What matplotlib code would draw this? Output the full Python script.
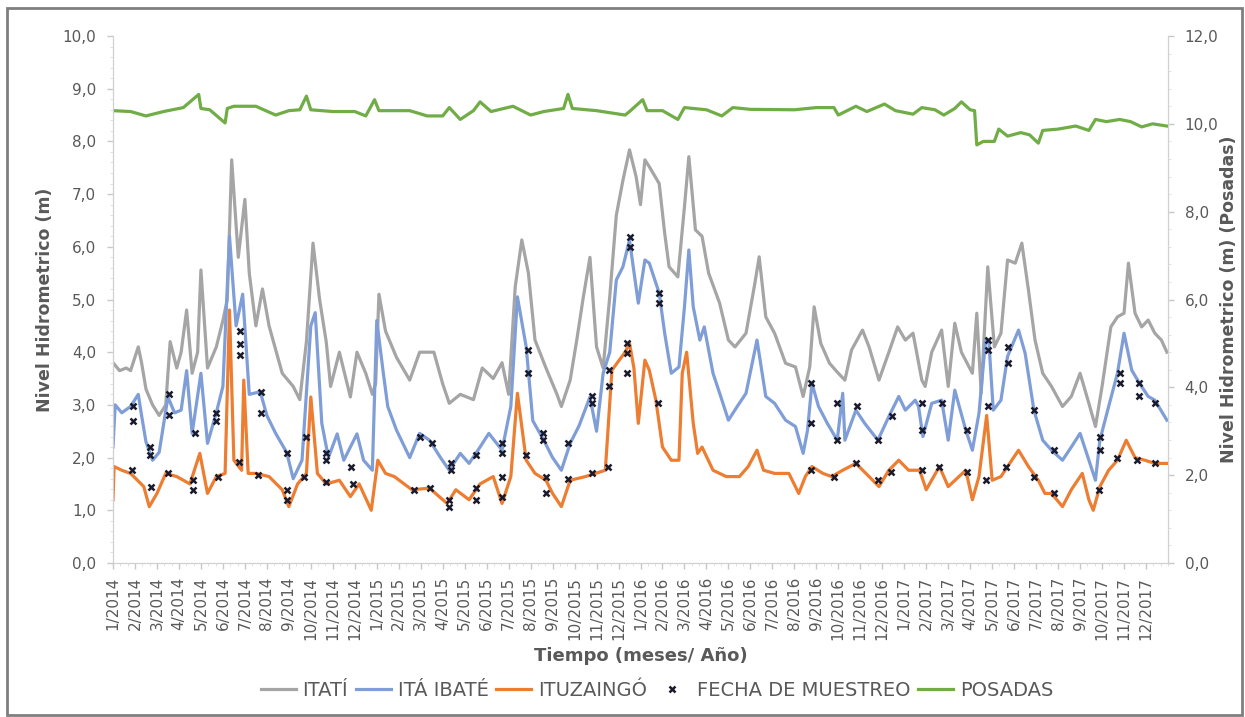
import matplotlib
matplotlib.use("Agg")
import matplotlib.pyplot as plt
from matplotlib.patches import Rectangle
from matplotlib.ticker import FuncFormatter, MultipleLocator
import numpy as np

# ---------------- datos (mes 0 = 1/2014) ----------------
etiquetas_mes = [f"{m}/{a}" for a in range(2014, 2018) for m in range(1, 13)]

itati_mes = [0.0, 0.3, 0.6, 0.8, 1.15, 1.3, 1.5, 1.8, 2.1, 2.4, 2.6, 2.9, 3.1, 3.35, 3.6, 3.85, 4.0, 4.3,
             4.7, 5.0, 5.2, 5.4, 5.7, 6.0, 6.2, 6.5, 6.8, 7.1, 7.7, 8.2, 8.5, 8.8, 9.1, 9.4, 9.7, 9.9,
             10.3, 10.8, 11.1, 11.5, 11.8, 11.95, 12.1, 12.4, 12.9, 13.5, 13.95, 14.6, 15.0, 15.3, 15.8,
             16.4, 16.8, 17.3, 17.7, 18.0, 18.3, 18.6, 18.9, 19.2, 19.7, 20.2, 20.4, 20.8, 21.1, 21.4,
             21.7, 22.0, 22.3, 22.6, 22.9, 23.2, 23.5, 23.8, 24.0, 24.2, 24.4, 24.85, 25.1, 25.3, 25.7,
             26.0, 26.2, 26.5, 26.8, 27.1, 27.6, 28.0, 28.3, 28.8, 29.2, 29.4, 29.7, 30.1, 30.6, 31.05,
             31.4, 31.7, 31.9, 32.2, 32.6, 33.0, 33.3, 33.6, 34.1, 34.4, 34.85, 35.3, 35.7, 36.05, 36.4,
             36.8, 36.95, 37.25, 37.7, 38.0, 38.3, 38.6, 39.1, 39.3, 39.5, 39.8, 40.1, 40.4, 40.7, 41.05,
             41.35, 41.65, 41.95, 42.3, 42.7, 43.2, 43.6, 44.0, 44.4, 44.7, 45.0, 45.4, 45.7, 46.0, 46.2,
             46.5, 46.8, 47.1, 47.4, 47.7, 47.95]
itati_nivel = [3.8, 3.65, 3.7, 3.65, 4.1, 3.8, 3.3, 3.0, 2.8, 3.0, 4.2, 3.7, 4.0, 4.8, 3.6, 4.0, 5.56, 3.7,
               4.1, 4.6, 5.0, 7.65, 5.8, 6.9, 5.5, 4.5, 5.2, 4.5, 3.6, 3.35, 3.1, 4.2, 6.07, 5.0, 4.2, 3.35,
               4.0, 3.15, 4.0, 3.6, 3.2, 3.4, 5.1, 4.4, 3.9, 3.47, 4.0, 4.0, 3.4, 3.03, 3.2,
               3.1, 3.7, 3.5, 3.8, 3.2, 5.24, 6.13, 5.5, 4.23, 3.7, 3.2, 2.97, 3.47, 4.23, 5.05,
               5.8, 4.1, 3.7, 5.05, 6.6, 7.26, 7.84, 7.33, 6.8, 7.65, 7.52, 7.2, 6.26, 5.62, 5.43,
               6.76, 7.71, 6.32, 6.2, 5.5, 4.93, 4.23, 4.1, 4.36, 5.3, 5.81, 4.67, 4.36, 3.79, 3.72,
               3.16, 3.72, 4.86, 4.17, 3.79, 3.6, 3.47, 4.04, 4.42, 4.1, 3.47, 4.0, 4.48, 4.23, 4.36,
               3.47, 3.35, 4.0, 4.42, 3.35, 4.55, 4.0, 3.6, 4.74, 3.22, 5.62, 4.1, 4.36, 5.75, 5.69,
               6.07, 5.18, 4.23, 3.6, 3.35, 2.97, 3.16, 3.6, 3.03, 2.59, 3.35, 4.48, 4.67, 4.74, 5.69,
               4.74, 4.48, 4.61, 4.36, 4.23, 4.0]

ibate_mes = [0.0, 0.1, 0.4, 0.8, 1.15, 1.3, 1.5, 1.8, 2.1, 2.5, 2.8, 3.1, 3.35, 3.6, 4.0, 4.3, 4.7, 5.0,
             5.3, 5.6, 5.9, 6.2, 6.7, 7.0, 7.4, 7.9, 8.2, 8.6, 9.0, 9.2, 9.5, 9.8, 10.2, 10.5, 11.1, 11.4,
             11.8, 12.0, 12.3, 12.5, 12.9, 13.5, 13.95, 14.4, 14.9, 15.3, 15.8, 16.2, 16.7, 17.1, 17.7,
             18.1, 18.4, 18.8, 19.1, 19.6, 20.0, 20.4, 20.8, 21.2, 21.7, 22.0, 22.3, 22.6, 22.9, 23.2,
             23.5, 23.9, 24.2, 24.4, 24.85, 25.1, 25.4, 25.75, 26.0, 26.2, 26.4, 26.7, 26.9, 27.3, 27.65,
             28.0, 28.4, 28.8, 29.3, 29.7, 30.1, 30.6, 31.05, 31.4, 31.6, 31.8, 32.1, 32.5, 32.95, 33.2,
             33.3, 33.8, 34.2, 34.8, 35.3, 35.75, 36.05, 36.5, 36.65, 36.85, 37.25, 37.7, 38.0, 38.3,
             38.8, 39.1, 39.4, 39.7, 39.85, 40.05, 40.4, 40.7, 41.2, 41.5, 41.9, 42.3, 42.7, 43.2, 43.6,
             44.0, 44.4, 44.7, 44.9, 45.3, 45.7, 46.0, 46.35, 46.7, 47.1, 47.4, 47.95]
ibate_nivel = [2.2, 3.0, 2.85, 2.97, 3.2, 2.8, 2.3, 1.95, 2.1, 3.15, 2.85, 2.9, 3.65, 2.46, 3.6, 2.27, 2.85, 3.35,
               6.2, 4.5, 5.1, 3.2, 3.25, 2.8, 2.46, 2.1, 1.6, 1.95, 4.5, 4.75, 2.65, 2.0, 2.45, 1.95, 2.45, 1.95,
               1.76, 4.6, 3.6, 2.97, 2.52, 2.0, 2.46, 2.33, 2.0, 1.76, 2.08, 1.89, 2.2, 2.46, 2.14,
               2.97, 5.05, 4.1, 2.7, 2.33, 2.0, 1.76, 2.27, 2.6, 3.15, 2.5, 3.6, 4.0, 5.37, 5.62,
               6.13, 4.93, 5.75, 5.69, 5.12, 4.36, 3.6, 3.72, 4.86, 5.94, 4.86, 4.23, 4.48, 3.6, 3.16,
               2.71, 2.97, 3.22, 4.23, 3.16, 3.03, 2.71, 2.59, 2.08, 2.52, 3.41, 2.97, 2.65, 2.33, 3.22,
               2.33, 2.9, 2.65, 2.33, 2.78, 3.16, 2.9, 3.09, 2.97, 2.4, 3.03, 3.09, 2.33, 3.28,
               2.52, 2.14, 2.84, 4.23, 4.2, 2.9, 3.09, 3.92, 4.42, 3.98, 2.9, 2.33, 2.14, 1.95, 2.2,
               2.46, 1.95, 1.57, 2.33, 2.97, 3.6, 4.36, 3.66, 3.41, 3.16, 3.09, 2.71]

ituz_mes = [0.0, 0.05, 0.4, 0.8, 1.4, 1.65, 2.0, 2.4, 2.9, 3.5, 3.95, 4.3, 4.7, 5.1, 5.3, 5.5, 5.85, 5.95,
            6.15, 6.5, 7.1, 7.7, 8.0, 8.4, 8.8, 9.0, 9.3, 9.7, 10.3, 10.8, 11.2, 11.75, 12.05, 12.4, 12.8,
            13.6, 14.4, 15.2, 15.6, 16.2, 16.7, 17.3, 17.7, 18.1, 18.4, 18.8, 19.2, 19.7, 20.0, 20.4,
            20.8, 21.5, 22.4, 22.7, 23.3, 23.5, 23.7, 23.9, 24.2, 24.4, 24.7, 25.0, 25.4, 25.75, 25.9,
            26.1, 26.4, 26.6, 26.8, 27.3, 27.9, 28.5, 28.9, 29.3, 29.6, 30.1, 30.75, 31.2, 31.5, 31.8,
            32.3, 32.7, 33.2, 33.8, 34.4, 34.85, 35.3, 35.75, 36.2, 36.7, 37.0, 37.6, 38.0, 38.8, 39.1,
            39.4, 39.75, 40.0, 40.4, 40.7, 41.2, 41.65, 42.1, 42.4, 42.7, 43.2, 43.6, 44.1, 44.4, 44.6,
            44.9, 45.3, 45.7, 46.1, 46.5, 46.95, 47.4, 47.95]
ituz_nivel = [1.2, 1.83, 1.76, 1.7, 1.45, 1.07, 1.32, 1.7, 1.64, 1.5, 2.08, 1.32, 1.64, 1.7, 4.8, 1.95, 1.76, 3.47,
              1.7, 1.7, 1.64, 1.39, 1.07, 1.5, 1.7, 3.15, 1.7, 1.5, 1.57, 1.26, 1.5, 1.0, 1.95, 1.7, 1.64,
              1.39, 1.42, 1.13, 1.39, 1.2, 1.5, 1.64, 1.13, 1.64, 3.22, 1.95, 1.7, 1.57, 1.32, 1.07,
              1.57, 1.64, 1.76, 3.66, 4.0, 4.17, 3.7, 2.65, 3.85, 3.66, 3.09, 2.2, 1.95, 1.95, 3.6,
              4.0, 2.65, 2.08, 2.2, 1.76, 1.64, 1.64, 1.83, 2.14, 1.76, 1.7, 1.7, 1.32, 1.64, 1.83,
              1.7, 1.64, 1.76, 1.89, 1.64, 1.45, 1.76, 1.95, 1.76, 1.76, 1.39, 1.83, 1.45, 1.76, 1.2,
              1.64, 2.8, 1.57, 1.64, 1.83, 2.14, 1.83, 1.57, 1.32, 1.32, 1.07, 1.39, 1.7, 1.2, 1.0,
              1.45, 1.76, 1.95, 2.33, 2.0, 1.95, 1.89, 1.89]

posadas_mes = [0.0, 0.8, 1.5, 2.3, 3.2, 3.9, 4.0, 4.4, 5.1, 5.2, 5.5, 6.5, 7.4, 8.0, 8.5, 8.8, 9.0, 10.0,
               11.0, 11.5, 11.9, 12.1, 13.5, 14.3, 15.0, 15.3, 15.8, 16.4, 16.7, 17.2, 18.2, 19.0, 19.6,
               20.5, 20.7, 20.9, 22.0, 23.3, 23.5, 24.1, 24.3, 25.0, 25.7, 26.0, 27.0, 27.7, 28.2, 29.0,
               31.0, 32.0, 32.8, 33.0, 33.8, 34.3, 35.1, 35.6, 36.4, 36.8, 37.4, 37.8, 38.3, 38.6, 39.0,
               39.2, 39.3, 39.6, 40.1, 40.3, 40.7, 41.3, 41.7, 42.1, 42.3, 43.0, 43.8, 44.4, 44.7, 45.2,
               45.8, 46.3, 46.8, 47.3, 47.95]
posadas_nivel = [10.3, 10.28, 10.18, 10.28, 10.37, 10.67, 10.35, 10.32, 10.02, 10.35, 10.4, 10.4, 10.2, 10.3, 10.32, 10.63, 10.32, 10.28,
                 10.28, 10.18, 10.55, 10.3, 10.3, 10.18, 10.18, 10.37, 10.1, 10.3, 10.5, 10.28, 10.4, 10.2, 10.28,
                 10.35, 10.67, 10.35, 10.3, 10.2, 10.28, 10.55, 10.3, 10.3, 10.1, 10.37, 10.32, 10.18, 10.37, 10.33,
                 10.32, 10.37, 10.37, 10.2, 10.4, 10.28, 10.45, 10.3, 10.22, 10.37, 10.32, 10.2, 10.35, 10.5, 10.32,
                 10.3, 9.52, 9.6, 9.6, 9.88, 9.72, 9.8, 9.75, 9.56, 9.85, 9.88, 9.95, 9.85, 10.1, 10.05,
                 10.1, 10.05, 9.93, 10.0, 9.95]

muestreo_mes = [0.92, 0.92, 1.68, 1.68, 2.56, 2.56, 3.72, 4.68, 4.68, 5.77, 5.77, 5.77, 6.75, 6.75, 7.9, 8.8,
                9.7, 9.7, 10.85,
                0.85, 1.75, 2.5, 3.65, 3.65, 4.78, 5.74, 6.6, 7.9, 7.9, 8.7, 9.7, 10.9,
                13.95, 14.5, 15.4, 15.4, 16.5, 17.7, 17.7, 18.9, 18.9, 19.55, 19.55, 20.7, 21.8, 21.8,
                22.55, 22.55, 23.5, 23.5,
                13.7, 14.4, 15.3, 15.3, 16.5, 16.5, 17.7, 17.7, 18.8, 19.7, 19.7, 20.7, 21.8, 22.5,
                23.4, 23.4, 23.4, 24.8, 24.85, 24.85,
                31.75, 31.75, 32.95, 32.95, 33.85, 34.8, 35.45,
                31.75, 32.8, 33.8, 34.8, 35.4,
                36.8, 36.8, 37.7, 38.85, 39.8, 39.8, 39.8, 40.7, 40.7, 41.9, 42.8, 44.9, 44.9, 45.8, 45.8,
                46.7, 46.7, 47.4,
                36.8, 37.6, 38.85, 39.7, 40.65, 41.9, 42.8, 44.85, 45.7, 46.6, 47.4]
muestreo_nivel = [2.97, 2.7, 2.2, 2.05, 3.2, 2.8, 2.46, 2.85, 2.7, 4.4, 4.15, 3.95, 3.25, 2.85, 2.08, 2.4,
                  2.08, 1.95, 1.83,
                  1.76, 1.45, 1.7, 1.57, 1.39, 1.64, 1.92, 1.67, 1.39, 1.2, 1.64, 1.54, 1.5,
                  2.4, 2.27, 1.89, 1.76, 2.05, 2.27, 2.08, 4.04, 3.6, 2.46, 2.33, 2.27, 3.16, 3.03,
                  3.66, 3.35, 6.19, 6.0,
                  1.39, 1.42, 1.2, 1.07, 1.42, 1.2, 1.64, 1.26, 2.05, 1.64, 1.32, 1.6, 1.7, 1.83,
                  4.17, 3.98, 3.6, 3.03, 5.12, 4.93,
                  3.41, 2.65, 3.03, 2.33, 2.97, 2.33, 2.78,
                  1.76, 1.64, 1.89, 1.57, 1.73,
                  3.03, 2.52, 3.03, 2.52, 4.23, 4.04, 2.97, 4.1, 3.79, 2.9, 2.14, 2.4, 2.14, 3.6, 3.41,
                  3.41, 3.16, 3.03,
                  1.76, 1.83, 1.73, 1.57, 1.83, 1.64, 1.32, 1.39, 2.0, 1.95, 1.89]

# ---------------- figura ----------------
gris_txt = "#595959"
fig = plt.figure(figsize=(12.45, 7.17), dpi=100)
fig.patches.append(Rectangle((7 / 1245, 2 / 717), 1235 / 1245, 707 / 717, transform=fig.transFigure,
                             fill=False, ec="#7f7f7f", lw=2))
ax = fig.add_axes([113 / 1245, 1 - 563 / 717, 1055 / 1245, 527 / 717])
ax2 = ax.twinx()

ax.plot(itati_mes, itati_nivel, color="#a5a5a5", lw=2.3, label="ITATÍ", zorder=2)
ax.plot(ibate_mes, ibate_nivel, color="#7f9ed8", lw=2.3, label="ITÁ IBATÉ", zorder=3)
ax.plot(ituz_mes, ituz_nivel, color="#ed7d31", lw=2.3, label="ITUZAINGÓ", zorder=4)
ax.plot(muestreo_mes, muestreo_nivel, ls="none", marker="x", ms=5, mew=1.8, color="#1a1a2e",
        label="FECHA DE MUESTREO", zorder=5)
ax2.plot(posadas_mes, posadas_nivel, color="#70ad47", lw=2.3, label="POSADAS")

fmt = FuncFormatter(lambda v, p: f"{v:.1f}".replace(".", ","))
ax.set_xlim(0, 48)
ax.set_ylim(0, 10)
ax2.set_ylim(0, 12)
ax.yaxis.set_major_locator(MultipleLocator(1))
ax.yaxis.set_minor_locator(MultipleLocator(0.2))
ax2.yaxis.set_major_locator(MultipleLocator(2))
ax2.yaxis.set_minor_locator(MultipleLocator(0.4))
ax.yaxis.set_major_formatter(fmt)
ax2.yaxis.set_major_formatter(fmt)

ax.set_xticks(range(48))
ax.set_xticklabels(etiquetas_mes, rotation=90)
ax.xaxis.set_minor_locator(MultipleLocator(1 / 3))

for a in (ax, ax2):
    a.spines["top"].set_visible(False)
    for s in ("left", "right", "bottom"):
        a.spines[s].set_color("#d0d0d0")
    a.tick_params(colors="#c8c8c8", labelcolor=gris_txt, labelsize=11, length=4, width=1, pad=8)
    a.tick_params(which="minor", colors="#dcdcdc", length=2)
ax.tick_params(axis="x", pad=6)

ax.set_ylabel("Nivel Hidrometrico (m)", fontsize=12.5, fontweight="bold", color=gris_txt, labelpad=6)
ax2.set_ylabel("Nivel Hidrometrico (m) (Posadas)", fontsize=12.5, fontweight="bold", color=gris_txt,
               labelpad=1)
ax.set_xlabel("Tiempo (meses/ Año)", fontsize=13, fontweight="bold", color=gris_txt, labelpad=5)

h1, l1 = ax.get_legend_handles_labels()
h2, l2 = ax2.get_legend_handles_labels()
fig.legend(h1 + h2, l1 + l2, loc="center", bbox_to_anchor=(657 / 1245, 1 - 690 / 717), ncol=5,
           frameon=False, fontsize=14, labelcolor=gris_txt, handlelength=1.8, columnspacing=0.4,
           handletextpad=0.35)

fig.savefig("out.png", dpi=100)
